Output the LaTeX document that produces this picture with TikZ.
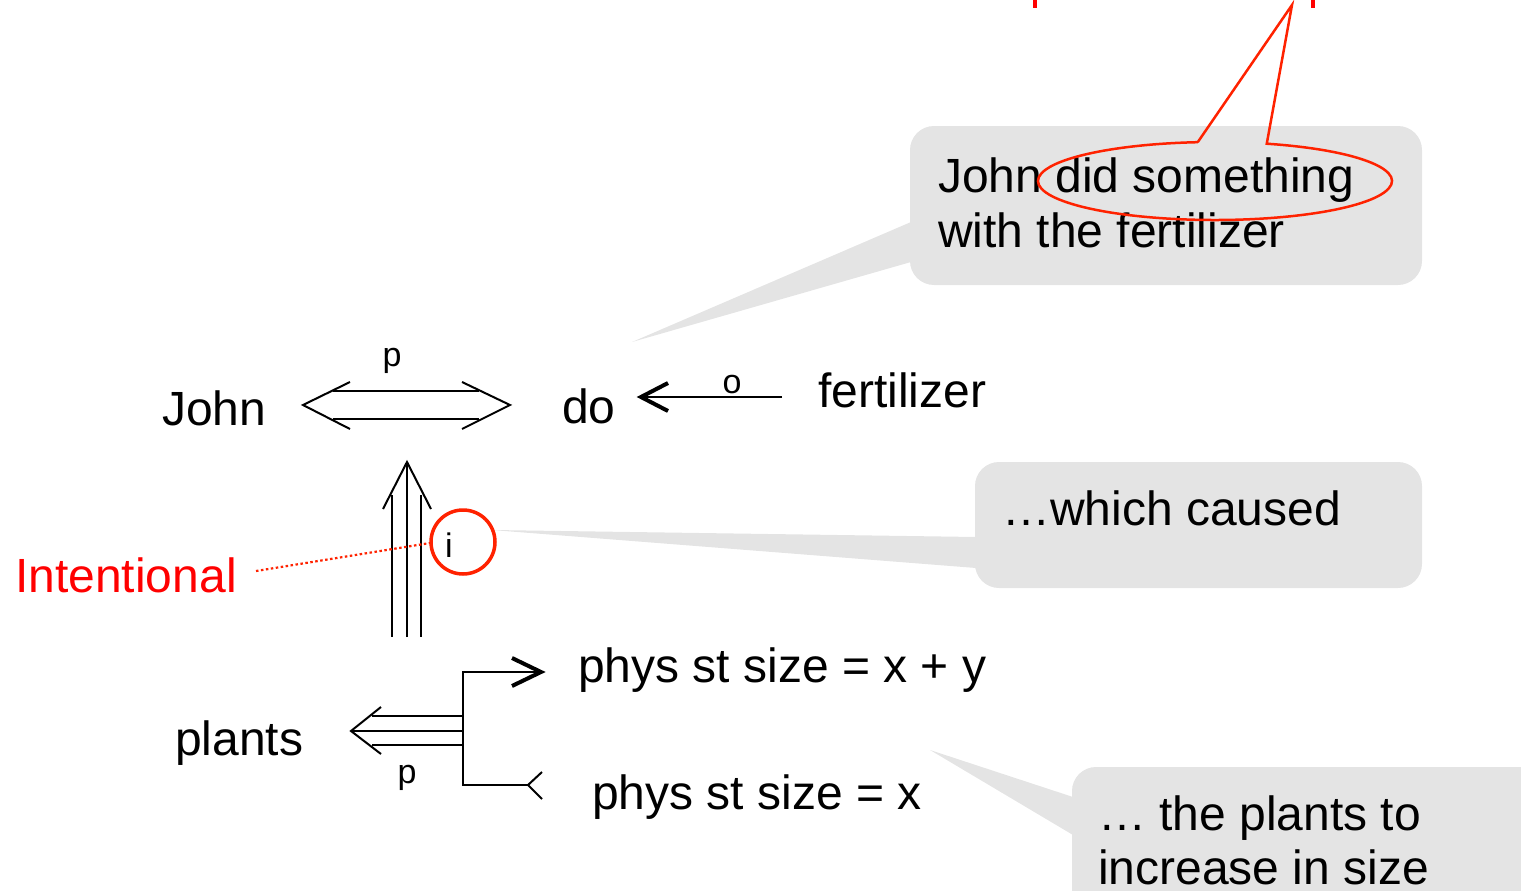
\documentclass[tikz,border=0pt]{standalone}
\usepackage{fontspec}
\setmainfont{Liberation Sans}
\usetikzlibrary{calc}
\definecolor{callout}{RGB}{228,228,228}
\definecolor{redo}{RGB}{255,34,0}
\tikzset{
  big/.style={font=\fontsize{48}{55}\selectfont, anchor=base west, inner sep=0pt},
  sml/.style={font=\fontsize{34}{38}\selectfont, anchor=base, inner sep=0pt},
  ln/.style={line width=2pt, line join=miter},
  thk/.style={line width=4pt, line join=miter},
  bubble/.style={fill=callout, rounded corners=24pt},
  tail/.style={fill=callout}
}
\begin{document}
\begin{tikzpicture}[x=1pt,y=-1pt]
\useasboundingbox (0,0) rectangle (1521,891);
\clip (0,0) rectangle (1521,891);
% callouts
\fill[bubble] (910,126) rectangle (1422,285);
\fill[tail] (911,222) -- (632,342) -- (911,262) -- cycle;
\fill[bubble] (975,462) rectangle (1422,588);
\fill[tail] (976,537) -- (492,530) -- (976,568) -- cycle;
\fill[bubble] (1072,767) rectangle (1560,930);
\fill[tail] (1073,797) -- (930,750) -- (1073,835) -- cycle;
% texts
\node[big] (cb1a) at (938,192) {John did something};
\node[big] (cb1b) at (938,247) {with the fertilizer};
\node[big] (cb2) at (1002,525) {…which caused};
\node[big] (cb3a) at (1098,830) {… the plants to};
\node[big, text depth=0pt] (cb3b) at (1098,884) {increase in size};
\node[big] (john) at (162,425) {John};
\node[big] (do) at (562,423) {do};
\node[big] (fert) at (818,407) {fertilizer};
\node[big] (plants) at (175,755) {plants};
\node[big] (s1) at (578,682) {phys st size = x + y};
\node[big] (s2) at (592,809) {phys st size = x};
\node[big, text=red] (intent) at (15,592) {Intentional};
\node[sml] (pa) at (392,366) {p};
\node[sml] (oa) at (732,393) {o};
\node[sml] (ia) at (449,557) {i};
\node[sml] (pb) at (407,783) {p};
% double arrow John <=> do
\coordinate (dl) at (303,405);
\coordinate (dr) at (510,405);
\draw[ln] (333,391) -- (479,391) (333,419) -- (479,419);
\draw[ln] (350,382) -- (dl) -- (350,429);
\draw[ln] (462,382) -- (dr) -- (462,429);
% fertilizer -> do
\coordinate (ft) at (782,397);
\coordinate (dt) at (641,397);
\draw[ln] (ft) -- (dt);
\draw[thk] (668,383) -- (dt) -- (668,411);
% triple up arrow
\coordinate (ut) at (407,462);
\draw[ln] (392,495) -- (392,637) (421,495) -- (421,637) (407,637) -- (ut);
\draw[ln] (383,509) -- (ut) -- (431,509);
% triple left arrow
\coordinate (lt) at (351,731);
\draw[ln] (372,716) -- (463,716) (372,745) -- (463,745) (463,731) -- (lt);
\draw[ln] (381,707) -- (lt) -- (381,754);
% fork
\coordinate (ft1) at (541,672);
\coordinate (ft2) at (528,785);
\draw[ln] (ft1) -- (463,672) -- (463,785) -- (ft2);
\draw[thk] (512,658) -- (ft1) -- (512,686);
\draw[ln] (542,772) -- (ft2) -- (542,799);
% red intentional
\coordinate (ic) at (463,542);
\draw[redo, line width=3.5pt] (ic) circle[radius=32];
\draw[redo, line width=2.2pt, dash pattern=on 2.5pt off 2.5pt] (256,571) -- (430,543);
% red ellipse callout
\coordinate (ec) at (1215,181);
\coordinate (etip) at (1292,5);
\draw[redo, line width=2.5pt, line join=miter]
  ($(ec)+(-95.6:177 and 39)$) -- (etip) -- ($(ec)+(-73:177 and 39)$)
  arc[start angle=-73, end angle=264.4, x radius=177, y radius=39];
% cut-off red fragments at top
\draw[red, line width=4pt] (1035,-2) -- (1035,8) (1313,-2) -- (1313,8);
\end{tikzpicture}
\end{document}
